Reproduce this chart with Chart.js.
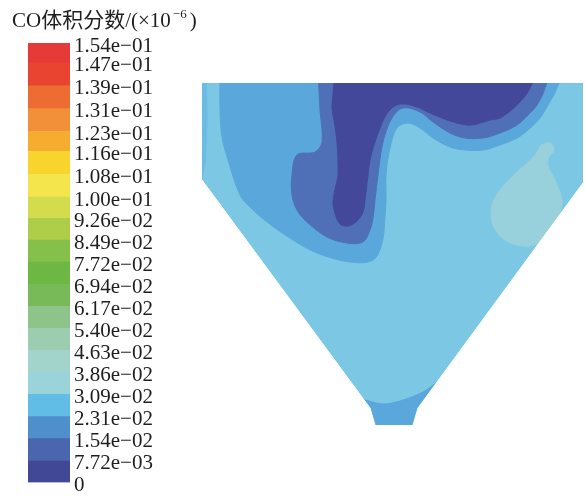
<!DOCTYPE html>
<html>
<head>
<meta charset="utf-8">
<script src="https://cdn.jsdelivr.net/npm/chart.js@4.4.1/dist/chart.umd.min.js"></script>
<style>
  html, body { margin: 0; padding: 0; background: #ffffff; }
  #wrap { position: relative; width: 585px; height: 497px; overflow: hidden; background: #ffffff; }
  #wrap canvas { position: absolute; left: 0; top: 0; }
</style>
</head>
<body>
<div id="wrap">
  <canvas id="field" width="585" height="497"></canvas>
  <canvas id="scale" width="230" height="497"></canvas>
</div>
<script>
// CO volume-fraction contour levels shown on the colour bar
const levels = [0, 0.00772, 0.0154, 0.0231, 0.0309, 0.0386, 0.0463, 0.0540, 0.0617, 0.0694,
                0.0772, 0.0849, 0.0926, 0.100, 0.108, 0.116, 0.123, 0.131, 0.139, 0.147, 0.154];
const levelLabels = ['0', '7.72e\u221203', '1.54e\u221202', '2.31e\u221202', '3.09e\u221202', '3.86e\u221202',
                     '4.63e\u221202', '5.40e\u221202', '6.17e\u221202', '6.94e\u221202', '7.72e\u221202',
                     '8.49e\u221202', '9.26e\u221202', '1.00e\u221201', '1.08e\u221201', '1.16e\u221201',
                     '1.23e\u221201', '1.31e\u221201', '1.39e\u221201', '1.47e\u221201', '1.54e\u221201'];
// one colour per band, lowest band first
const bandColors = ['#414996', '#4a66ae', '#4f8fcb', '#62bde6', '#9ad3da', '#a3d4cb', '#9ccdb1',
                    '#8ec48a', '#79ba58', '#6db743', '#84c04a', '#aecd49', '#d2dc4c', '#f3e54b',
                    '#f7d52c', '#f6ad2f', '#f28f39', '#ed6c32', '#e8442f', '#e53a38'];
// shading of the bands as they appear in the hopper section
const fieldColors = ['#43489b', '#4f70b6', '#5aa8db', '#7bc7e4', '#98d1dc'];

// hopper section, [x, y] in mm (x from the outlet axis, y up from the outlet)
const hopperWall = [[-191, 342], [190, 342], [190, 242], [25, 17], [20, 0], [-18, 0], [-23, 17], [-191, 245]];
const wallStrip  = [[-191, 355], [-187, 355], [-186, 305], [-188, 260], [-191, 247]];
const bandMid = [[-173, 355], [167, 355], [164, 337], [155, 320], [147, 307], [135, 295], [124, 287],
                 [107, 280], [90, 275], [72, 275], [57, 278], [40, 287], [27, 297], [15, 302], [4, 297],
                 [-3, 277], [-7, 250], [-7, 225], [-8, 208], [-11, 182], [-20, 165], [-43, 163],
                 [-76, 172], [-100, 185], [-126, 203], [-143, 218], [-153, 230], [-165, 265],
                 [-171, 288], [-173, 315]];
const outletBand = [[-38, 27], [-28, 25], [-10, 21], [7, 24], [30, 33], [45, 44], [55, 54], [67, 54],
                    [67, -15], [-38, -15]];
const palePatch = [[148, 280], [157, 282], [161, 275], [156, 268], [155, 259], [162, 245], [169, 225],
                   [167, 213], [159, 197], [150, 185], [137, 179], [120, 181], [107, 189], [99, 203],
                   [99, 220], [107, 235], [120, 249], [134, 262], [142, 270]];
const bandLow = [[-75, 355], [154, 355], [152, 337], [144, 320], [135, 310], [124, 300], [107, 292],
                 [90, 287], [72, 287], [57, 292], [40, 303], [27, 313], [10, 317], [-1, 307], [-10, 283],
                 [-15, 250], [-18, 225], [-20, 207], [-23, 195], [-30, 183], [-46, 182], [-66, 188],
                 [-86, 203], [-96, 215], [-101, 230], [-101, 250], [-96, 270], [-78, 273], [-71, 283],
                 [-73, 315]];
const coreZone = [[-58, 355], [140, 355], [137, 337], [124, 320], [107, 307], [97, 305], [84, 301],
                  [74, 300], [57, 304], [37, 312], [24, 318], [7, 321], [-5, 313], [-13, 297], [-18, 283],
                  [-23, 265], [-25, 250], [-28, 225], [-30, 213], [-36, 204], [-45, 199], [-53, 201],
                  [-58, 212], [-60, 223], [-57, 240], [-55, 250], [-56, 283], [-59, 305], [-61, 317],
                  [-60, 330]];
// space outside the sloping walls
const maskLeft  = [[-200, 245], [-191, 245], [-23, 17], [-18, 0], [-18, -10], [-200, -10]];
const maskRight = [[200, 242], [190, 242], [25, 17], [20, 0], [20, -10], [200, -10]];

// painted bottom to top
const layers = [
  { pts: hopperWall, color: fieldColors[3], tension: 0 },
  { pts: wallStrip,  color: '#6bbce4',      tension: 0 },
  { pts: bandMid,    color: fieldColors[2], tension: 0.35 },
  { pts: outletBand, color: fieldColors[2], tension: 0.3 },
  { pts: palePatch,  color: fieldColors[4], tension: 0.35 },
  { pts: bandLow,    color: fieldColors[1], tension: 0.35 },
  { pts: coreZone,   color: fieldColors[0], tension: 0.35 },
  { pts: maskLeft,   color: '#ffffff',      tension: 0 },
  { pts: maskRight,  color: '#ffffff',      tension: 0 }
];

new Chart(document.getElementById('field'), {
  type: 'scatter',
  data: {
    datasets: layers.map((l, i) => ({
      data: l.pts.concat([l.pts[0]]).map(([x, y]) => ({ x, y })),
      showLine: true,
      fill: 'shape',
      backgroundColor: l.color,
      borderColor: l.color,
      borderWidth: 1,
      pointRadius: 0,
      tension: l.tension,
      order: layers.length - i
    }))
  },
  options: {
    responsive: false,
    animation: false,
    events: [],
    layout: { padding: { left: 202, right: 2, top: 83, bottom: 72 } },
    scales: {
      x: { type: 'linear', min: -191, max: 190, display: false },
      y: { type: 'linear', min: 0, max: 342, display: false }
    },
    plugins: { legend: { display: false }, tooltip: { enabled: false } }
  }
});

// heading above the colour bar, with the exponent raised
const heading = {
  id: 'heading',
  afterDraw(chart) {
    const ctx = chart.ctx;
    const big = '21px "Liberation Serif", "Noto Sans CJK SC", serif';
    ctx.save();
    ctx.fillStyle = '#1e1e1e';
    ctx.textBaseline = 'alphabetic';
    ctx.textAlign = 'left';
    let x = 12;
    const y = 27;
    ctx.font = big;
    const main = 'CO体积分数/(\u00d710';
    ctx.fillText(main, x, y);
    x += ctx.measureText(main).width + 2;
    ctx.font = '13px "Liberation Serif", serif';
    ctx.fillText('\u22126', x, y - 9);
    x += ctx.measureText('\u22126').width + 3;
    ctx.font = big;
    ctx.fillText(')', x, y);
    ctx.restore();
  }
};

new Chart(document.getElementById('scale'), {
  type: 'bar',
  data: {
    labels: [''],
    datasets: bandColors.map((c, i) => ({
      data: [[levels[i], levels[i + 1]]],
      backgroundColor: c,
      borderWidth: 0,
      grouped: false,
      barPercentage: 1,
      categoryPercentage: 1
    }))
  },
  options: {
    responsive: false,
    animation: false,
    events: [],
    layout: { padding: { left: 28, top: 43, bottom: 13, right: 0 } },
    scales: {
      x: { display: false },
      y: {
        position: 'right',
        min: 0,
        max: 0.154,
        grid: { display: false, drawTicks: false },
        border: { display: false },
        afterBuildTicks: s => { s.ticks = levels.map(v => ({ value: v })); },
        afterFit: s => { s.width = 160; },
        ticks: {
          autoSkip: false,
          padding: 4,
          labelOffset: 3,
          color: '#1e1e1e',
          font: { family: '"Liberation Serif", "Times New Roman", serif', size: 21, lineHeight: 1 },
          callback: (v, i) => levelLabels[i]
        }
      }
    },
    plugins: { legend: { display: false }, tooltip: { enabled: false } }
  },
  plugins: [heading]
});
</script>
</body>
</html>
